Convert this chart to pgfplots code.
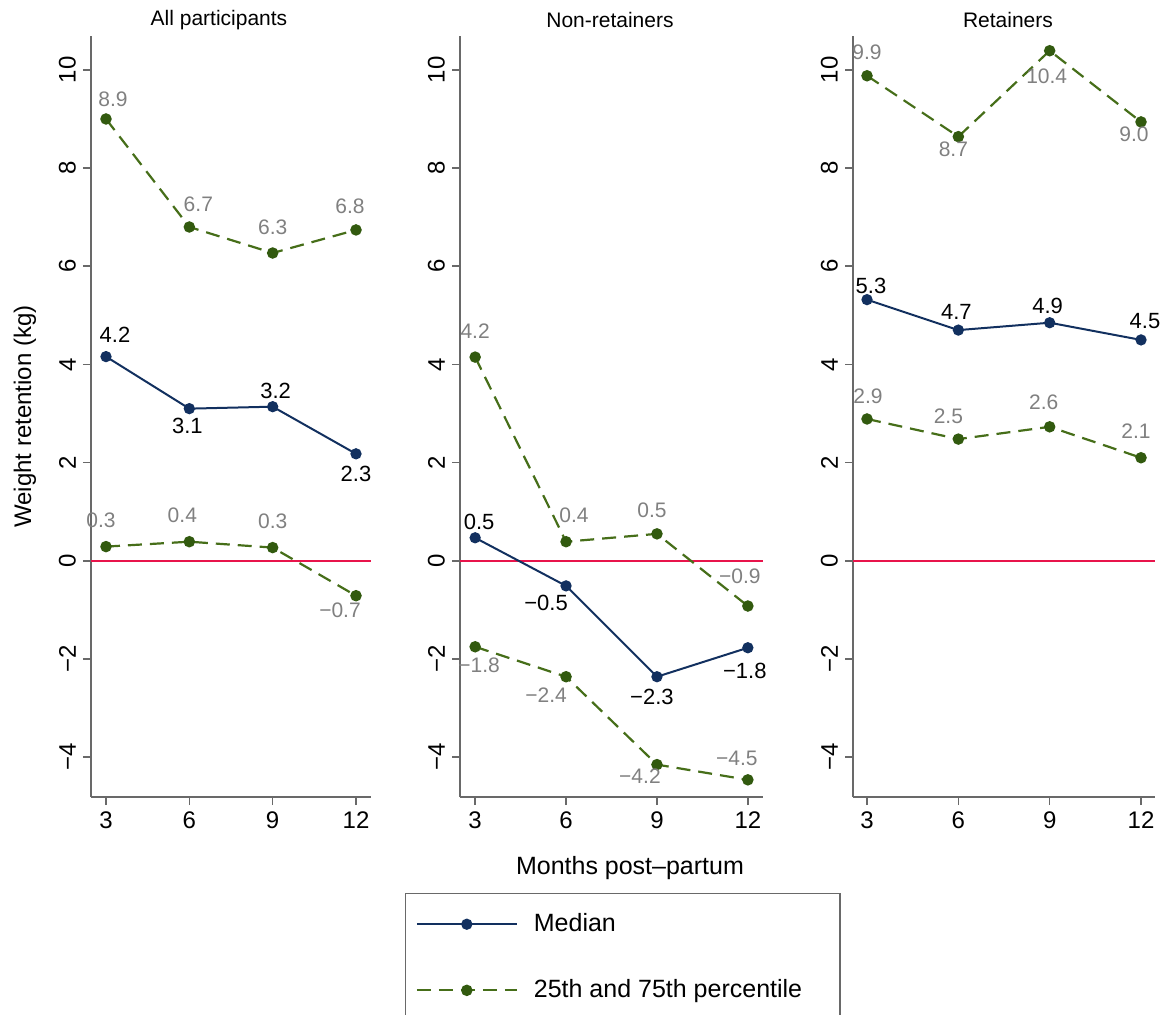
\documentclass[border=0pt]{standalone}
\usepackage{fontspec}
\setmainfont{Liberation Sans}
\usepackage{pgfplots}
\pgfplotsset{compat=1.18}
\definecolor{navyc}{RGB}{18,48,95}
\definecolor{greenc}{RGB}{70,110,25}
\definecolor{greenm}{RGB}{50,90,15}
\definecolor{axgray}{RGB}{105,105,105}
\definecolor{labgray}{RGB}{128,128,128}
\definecolor{zred}{RGB}{232,20,75}

\pgfplotsset{
  panel/.style={
    scale only axis, height=380.5pt,
    ymin=-4.81, ymax=10.69,
    axis x line*=bottom, axis y line*=left,
    axis line style={axgray, line width=0.8pt, -},
    tick style={axgray, line width=0.8pt},
    tick align=outside, major tick length=4pt,
    xtick={3,6,9,12}, xticklabels={3,6,9,12},
    ytick={-4,-2,0,2,4,6,8,10},
    yticklabels={−4,−2,0,2,4,6,8,10},
    ticklabel style={font=\fontsize{12}{14}\selectfont, black},
    yticklabel style={rotate=90, anchor=south},
    clip=false,
    every axis title/.style={at={(0.5,1)}, anchor=center, font=\fontsize{10.5}{12}\selectfont},
  },
  lbl/.style={
    nodes near coords, point meta=explicit symbolic,
    visualization depends on={value \thisrow{dx}\as\lblx},
    visualization depends on={value \thisrow{dy}\as\lbly},
    every node near coord/.append style={anchor=center, inner sep=0pt, xshift=\lblx pt, yshift=\lbly pt},
  },
  med/.style={lbl, navyc, line width=1pt, mark=*, mark size=2.3pt,
    mark options={solid, fill=navyc, draw=navyc},
    every node near coord/.append style={font=\fontsize{11}{13}\selectfont, black}},
  pct/.style={lbl, greenc, line width=1.1pt, dash pattern=on 7pt off 4pt, mark=*, mark size=2.3pt,
    mark options={solid, fill=greenm, draw=greenm},
    every node near coord/.append style={font=\fontsize{10.5}{12}\selectfont, labgray}},
  zero/.style={zred, line width=1pt, forget plot},
  legend image code/.code={\draw[mark repeat=2,mark phase=2,#1] plot coordinates {(0pt,0pt) (25pt,0pt) (50pt,0pt)};},
}

\begin{document}
\begin{tikzpicture}
\path[use as bounding box] (0,0) rectangle (585pt,507pt);

% Panel 1
\begin{axis}[panel, at={(45.5pt,108.5pt)}, anchor=south west, width=140pt,
  xmin=2.46, xmax=12.54,
  title={All participants}, title style={at={(axis description cs:0.457,1.021)}},
  ylabel={Weight retention (kg)},
  ylabel style={at={(axis description cs:-0.236,0.5)}, anchor=center, font=\fontsize{12}{14}\selectfont}]
\addplot[zero] coordinates {(2.46,0) (12.54,0)};
\addplot[pct] table[x=x,y=y,meta=lab] {
x y lab dx dy
3 9.00 8.9 3.5 10
6 6.80 6.7 4.5 11.5
9 6.27 6.3 0 13
12 6.74 6.8 -3 12
};
\addplot[pct] table[x=x,y=y,meta=lab] {
x y lab dx dy
3 0.29 0.3 -2.5 13
6 0.39 0.4 -3.5 13
9 0.27 0.3 0 13
12 -0.71 −0.7 -8 -7.5
};
\addplot[med] table[x=x,y=y,meta=lab] {
x y lab dx dy
3 4.16 4.2 4.5 11
6 3.10 3.1 -1 -8.5
9 3.14 3.2 1.5 8
12 2.18 2.3 0 -10
};
\end{axis}

% Panel 2
\begin{axis}[panel, at={(230pt,108.5pt)}, anchor=south west, width=151.5pt,
  xmin=2.5, xmax=12.5,
  title={Non-retainers}, title style={at={(axis description cs:0.495,1.021)}},
  xlabel={Months post–partum},
  xlabel style={at={(axis description cs:0.561,-0.0933)}, anchor=center, font=\fontsize{12.5}{15}\selectfont},
  legend style={at={(axis description cs:-0.1815,-0.1261)}, anchor=north west,
    draw=axgray, line width=0.7pt, font=\fontsize{12.5}{15}\selectfont,
    row sep=18.5pt, column sep=6pt, inner xsep=5pt, inner ysep=8pt},
  legend cell align=left]
\addplot[zero] coordinates {(2.5,0) (12.5,0)};
\addplot[med] table[x=x,y=y,meta=lab] {
x y lab dx dy
3 0.47 0.5 2 8
6 -0.51 −0.5 -10 -8.5
9 -2.36 −2.3 -2.5 -10
12 -1.77 −1.8 -1.5 -11.5
};
\addlegendentry{\makebox[146pt][l]{Median}}
\addplot[pct] table[x=x,y=y,meta=lab] {
x y lab dx dy
3 4.15 4.2 0 13
6 0.39 0.4 4 13
9 0.55 0.5 -2.5 12
12 -0.92 −0.9 -4 15
};
\addlegendentry{\makebox[146pt][l]{25th and 75th percentile}}
\addplot[pct, forget plot] table[x=x,y=y,meta=lab] {
x y lab dx dy
3 -1.75 −1.8 2 -9
6 -2.36 −2.4 -10 -9
9 -4.15 −4.2 -8.5 -6
12 -4.46 −4.5 -5.5 10.5
};
\end{axis}

% Panel 3
\begin{axis}[panel, at={(426.5pt,108.5pt)}, anchor=south west, width=151pt,
  xmin=2.54, xmax=12.46,
  title={Retainers}, title style={at={(axis description cs:0.513,1.021)}}]
\addplot[zero] coordinates {(2.54,0) (12.46,0)};
\addplot[pct] table[x=x,y=y,meta=lab] {
x y lab dx dy
3 9.88 9.9 0 11.5
6 8.64 8.7 -2.5 -6.5
9 10.39 10.4 -1.5 -13
12 8.94 9.0 -3.5 -6
};
\addplot[pct] table[x=x,y=y,meta=lab] {
x y lab dx dy
3 2.89 2.9 0.5 11.5
6 2.48 2.5 -5 11.5
9 2.73 2.6 -3 12.5
12 2.10 2.1 -2.5 13.5
};
\addplot[med] table[x=x,y=y,meta=lab] {
x y lab dx dy
3 5.32 5.3 2 7
6 4.70 4.7 -1 9
9 4.85 4.9 -1 8.5
12 4.50 4.5 2 9.5
};
\end{axis}
\end{tikzpicture}
\end{document}
